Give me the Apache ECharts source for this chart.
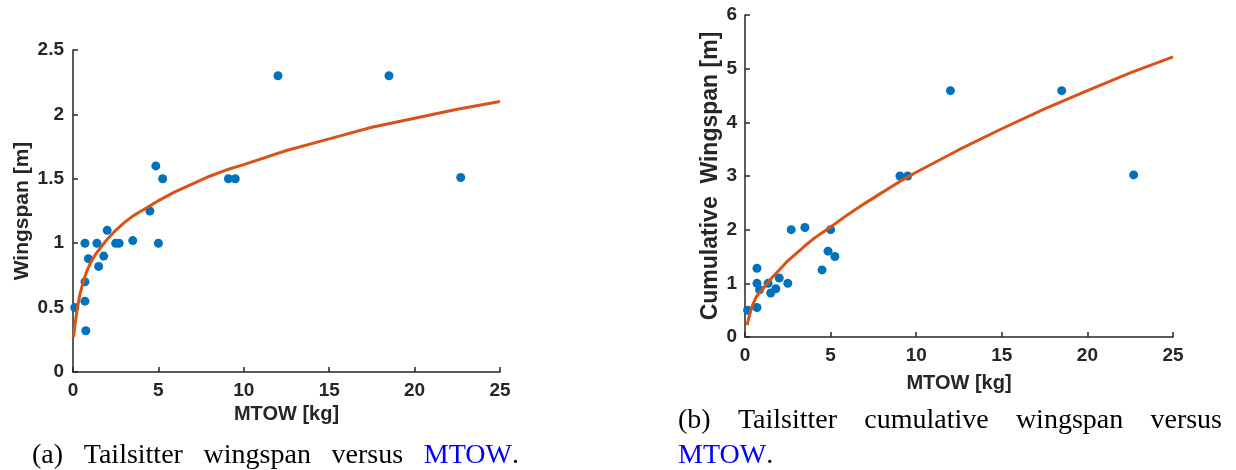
<!DOCTYPE html>
<html>
<head>
<meta charset="utf-8">
<script src="https://cdn.jsdelivr.net/npm/echarts@6/dist/echarts.min.js"></script>
<style>
html,body{margin:0;padding:0;background:#fff;}
#chart{width:1236px;height:470px;}
</style>
</head>
<body>
<div id="chart"></div>
<script>
// ---- data ----
const leftMtow  = [0.1, 0.7, 0.7, 0.7, 0.75, 0.9, 1.4, 1.5, 1.8, 2.0, 2.5, 2.7, 3.5, 4.5, 4.85, 5.0, 5.25, 9.1, 9.5, 12, 18.5, 22.7];
const leftSpan  = [0.5, 1.0, 0.7, 0.55, 0.32, 0.88, 1.0, 0.82, 0.9, 1.1, 1.0, 1.0, 1.02, 1.25, 1.6, 1.0, 1.5, 1.5, 1.5, 2.3, 2.3, 1.51];
const leftFitX  = [0.04, 0.08, 0.15, 0.25, 0.4, 0.6, 0.8, 1, 1.3, 1.7, 2, 2.5, 3, 3.5, 4, 5, 6, 7, 8, 9, 10, 12.5, 15, 17.5, 20, 22.5, 25];
const leftFitY  = [0.27, 0.33, 0.40, 0.49, 0.60, 0.70, 0.78, 0.84, 0.91, 0.98, 1.03, 1.10, 1.16, 1.21, 1.25, 1.33, 1.40, 1.46, 1.52, 1.57, 1.61, 1.72, 1.81, 1.90, 1.97, 2.04, 2.10];

const rightMtow = [0.15, 0.7, 0.7, 0.7, 0.85, 1.35, 1.5, 1.8, 2.0, 2.5, 2.7, 3.5, 4.5, 4.85, 5.0, 5.25, 9.05, 9.5, 12, 18.5, 22.7];
const rightSpan = [0.5, 1.28, 1.0, 0.55, 0.88, 1.0, 0.82, 0.9, 1.1, 1.0, 2.0, 2.04, 1.25, 1.6, 2.0, 1.5, 3.0, 3.0, 4.59, 4.59, 3.02];
const rightFitX = [0.12, 0.2, 0.3, 0.45, 0.66, 1, 1.5, 2, 2.5, 3, 3.5, 4, 5, 6, 7, 8, 9, 10, 12.5, 15, 17.5, 20, 22.5, 25];
const rightFitY = [0.22, 0.33, 0.45, 0.60, 0.75, 0.88, 1.08, 1.25, 1.42, 1.56, 1.70, 1.83, 2.05, 2.28, 2.49, 2.69, 2.89, 3.07, 3.49, 3.88, 4.25, 4.59, 4.92, 5.22];

const xTitle = 'MTOW [kg]';
const leftYTitle = 'Wingspan [m]';
const rightYTitle = 'Cumulative  Wingspan [m]';
const captionA = ['(a)', 'Tailsitter', 'wingspan', 'versus', 'MTOW', '.'];
const captionB1 = ['(b)', 'Tailsitter', 'cumulative', 'wingspan', 'versus'];
const captionB2 = ['MTOW', '.'];

// ---- styles ----
const AX = '#262626';
const BLUE = '#0072BD';
const ORANGE = '#D95319';
const SANS = '"Liberation Sans", Arial, Helvetica, sans-serif';
const SERIF = '"Liberation Serif", "Times New Roman", serif';
const CAP_SIZE = 28;
const TICK_SIZE = 19;

function zip(a, b) { return a.map((v, i) => [v, b[i]]); }

function xAxis(gridIndex, nameGap) {
  return {
    type: 'value', gridIndex, min: 0, max: 25, interval: 5,
    name: xTitle, nameLocation: 'middle', nameGap,
    nameTextStyle: { fontFamily: SANS, fontWeight: 'bold', fontSize: 20, color: AX },
    axisLine: { show: true, onZero: false, lineStyle: { color: AX, width: 1.5 } },
    axisTick: { show: true, inside: true, length: 5, lineStyle: { color: AX, width: 1.5 } },
    axisLabel: { fontFamily: SANS, fontWeight: 'bold', fontSize: TICK_SIZE, color: AX, margin: 9 },
    splitLine: { show: false }
  };
}
function yAxis(gridIndex, max, interval, name, nameGap, nameSize, margin) {
  return {
    type: 'value', gridIndex, min: 0, max, interval,
    name, nameLocation: 'middle', nameGap,
    nameTextStyle: { fontFamily: SANS, fontWeight: 'bold', fontSize: nameSize, color: AX },
    axisLine: { show: true, onZero: false, lineStyle: { color: AX, width: 1.5 } },
    axisTick: { show: true, inside: true, length: 5, lineStyle: { color: AX, width: 1.5 } },
    axisLabel: { fontFamily: SANS, fontWeight: 'bold', fontSize: TICK_SIZE, color: AX, margin },
    splitLine: { show: false }
  };
}

// ---- caption layout (justified words measured with canvas) ----
const measureCtx = document.createElement('canvas').getContext('2d');
measureCtx.font = CAP_SIZE + 'px ' + SERIF;
function wordWidth(w) { return measureCtx.measureText(w).width; }

function justifiedLine(words, x0, x1, y, blueIdx) {
  const groups = [];
  words.forEach((w, i) => {
    if (w === '.') groups[groups.length - 1].parts.push({ t: w, i });
    else groups.push({ parts: [{ t: w, i }] });
  });
  const widths = groups.map(g => g.parts.reduce((s, p) => s + wordWidth(p.t), 0));
  const total = widths.reduce((a, b) => a + b, 0);
  const gap = groups.length > 1 ? (x1 - x0 - total) / (groups.length - 1) : 0;
  const els = [];
  let x = x0;
  groups.forEach((g, gi) => {
    let px = x;
    g.parts.forEach(p => {
      els.push({
        type: 'text', left: px, top: y, silent: true,
        style: {
          text: p.t, x: 0, y: 0, fill: blueIdx.includes(p.i) ? '#0000FF' : '#000',
          font: CAP_SIZE + 'px ' + SERIF, verticalAlign: 'middle'
        }
      });
      px += wordWidth(p.t);
    });
    x += widths[gi] + gap;
  });
  return els;
}

const graphics = []
  .concat(justifiedLine(captionA, 32, 519, 442, [4]))
  .concat(justifiedLine(captionB1, 678, 1222, 407, []))
  .concat(justifiedLine(captionB2, 678, 678, 442, [0]));

const chart = echarts.init(document.getElementById('chart'), null, { renderer: 'canvas' });
chart.setOption({
  backgroundColor: '#ffffff',
  animation: false,
  grid: [
    { left: 73, top: 50, width: 427, height: 322, containLabel: false },
    { left: 745, top: 15, width: 428, height: 322, containLabel: false }
  ],
  xAxis: [xAxis(0, 31), xAxis(1, 36)],
  yAxis: [
    yAxis(0, 2.5, 0.5, leftYTitle, 40, 21, 9),
    yAxis(1, 6, 1, rightYTitle, 21, 23, 8)
  ],
  series: [
    { type: 'scatter', xAxisIndex: 0, yAxisIndex: 0, data: zip(leftMtow, leftSpan),
      symbol: 'circle', symbolSize: 9, itemStyle: { color: BLUE, opacity: 1 }, z: 2 },
    { type: 'line', xAxisIndex: 0, yAxisIndex: 0, data: zip(leftFitX, leftFitY),
      smooth: false, showSymbol: false,
      lineStyle: { color: ORANGE, width: 3, join: 'round' }, z: 3 },
    { type: 'scatter', xAxisIndex: 1, yAxisIndex: 1, data: zip(rightMtow, rightSpan),
      symbol: 'circle', symbolSize: 9, itemStyle: { color: BLUE, opacity: 1 }, z: 2 },
    { type: 'line', xAxisIndex: 1, yAxisIndex: 1, data: zip(rightFitX, rightFitY),
      smooth: false, showSymbol: false,
      lineStyle: { color: ORANGE, width: 3, join: 'round' }, z: 3 }
  ],
  graphic: { elements: graphics }
});
</script>
</body>
</html>
